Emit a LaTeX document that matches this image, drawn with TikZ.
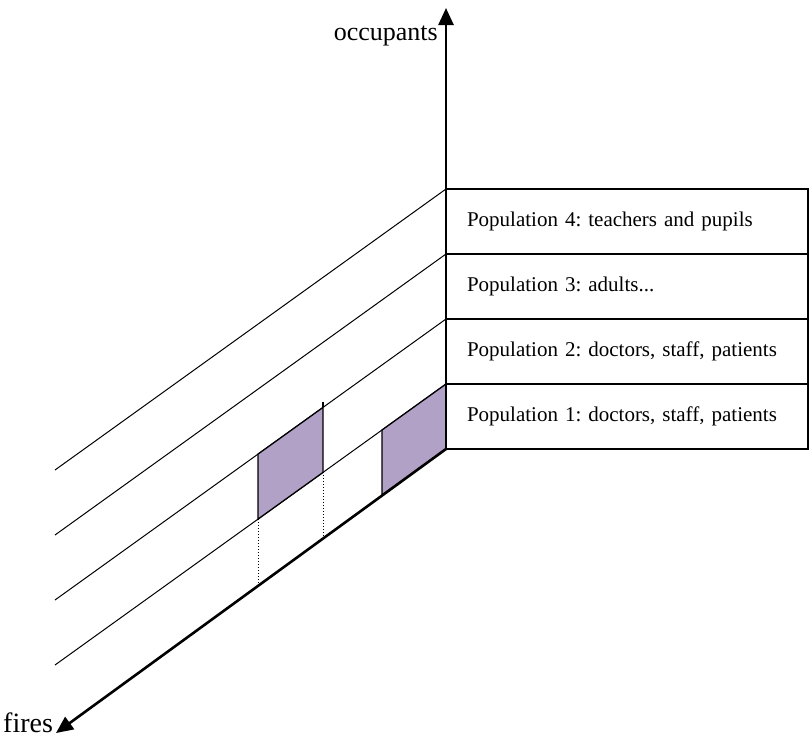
\documentclass[tikz,border=0pt]{standalone}
\usepackage{fontspec}
\setmainfont{Liberation Serif}
\usetikzlibrary{arrows.meta}
\frenchspacing

\definecolor{lavender}{RGB}{178,161,199}

\tikzset{
  popbox/.style={draw, line width=1.2pt, anchor=north west, outer sep=0pt,
    minimum height=65pt, inner xsep=21pt, text width=320pt, align=left,
    font=\fontsize{21}{25}\selectfont},
  axis/.style={line width=2.6pt, -{Triangle[length=17pt,width=15pt]}},
  cell/.style={fill=lavender, draw, line width=1.3pt},
}

\begin{document}
\begin{tikzpicture}[x=1pt,y=-1pt]
\useasboundingbox (0,0) rectangle (812,737);

% the population rows
\node[popbox] (pop4) at (446,189) {Population 4: teachers and pupils};
\node[popbox] (pop3) at (pop4.south west) {Population 3: adults...};
\node[popbox] (pop2) at (pop3.south west) {Population 2: doctors, staff, patients};
\node[popbox] (pop1) at (pop2.south west) {Population 1: doctors, staff, patients};

\coordinate (o) at (pop1.south west);
\coordinate (ytip) at (446,8);
\coordinate (xtip) at (56,733);

% receding lines
\draw[line width=1pt] (pop4.north west) -- ++(-391,281);
\draw[line width=1pt] (pop3.north west) -- ++(-391,281);
\draw[line width=1pt] (pop2.north west) -- ++(-391,281);
\draw[line width=1pt] (pop1.north west) -- ++(-391,281);

% shaded cells
\draw[cell] (o) -- (pop1.north west) -- (382,430) -- (382,495) -- cycle;
\draw[cell] (323,407.4) -- (323,472.4) -- (258,519.1) -- (258,454.1) -- cycle;
\draw[line width=1.3pt] (323,407.4) -- ++(0,-5);

\draw[line width=1pt, dotted] (258,519.1) -- (258,584.1);
\draw[line width=1pt, dotted] (323,472.4) -- (323,537.4);

% axes
\draw[axis] (o) -- (ytip);
\draw[axis] (o) -- (xtip);

\node[anchor=base east, inner sep=0pt, font=\fontsize{26}{30}\selectfont] (ylab) at (438,40) {occupants};
\node[anchor=base west, inner sep=0pt, font=\fontsize{28}{32}\selectfont] (xlab) at (3,732) {fires};
\end{tikzpicture}
\end{document}
